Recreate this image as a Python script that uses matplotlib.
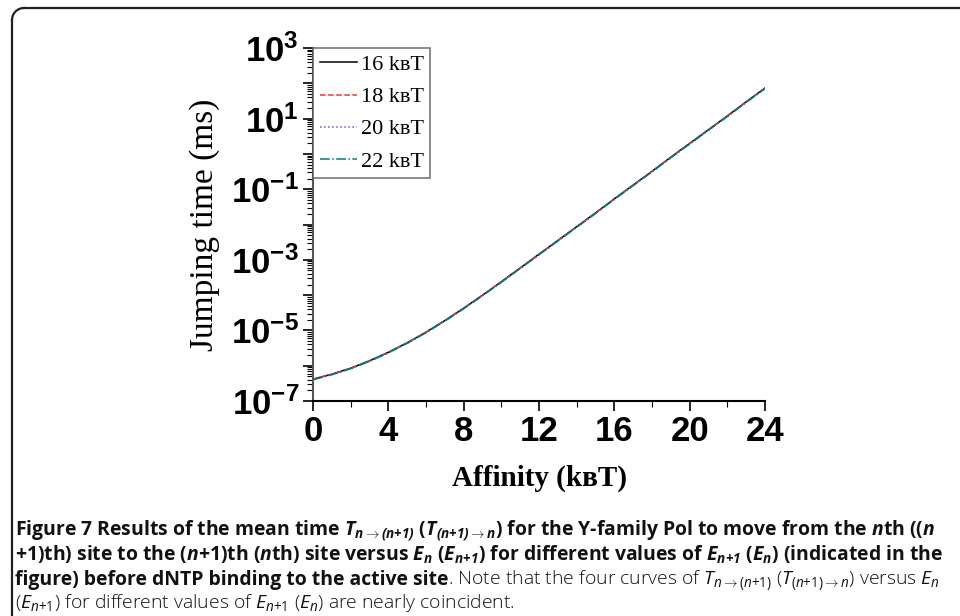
import numpy as np
import matplotlib
matplotlib.use("Agg")
import matplotlib.pyplot as plt
from matplotlib.ticker import LogLocator, FixedLocator, MultipleLocator, FuncFormatter
from matplotlib.lines import Line2D

# Data (affinity in kBT, jumping time in ms)
affinity = np.arange(0, 25)
t_16 = [4.17e-7, 5.75e-7, 8.51e-7, 1.38e-6, 2.40e-6, 4.47e-6, 8.91e-6, 1.91e-5, 4.27e-5,
        1.00e-4, 2.40e-4, 5.89e-4, 1.45e-3, 3.55e-3, 8.71e-3, 2.14e-2, 5.37e-2, 0.132,
        0.324, 0.813, 2.00, 4.90, 12.0, 30.2, 74.1]
t_18 = [4.12e-7, 5.69e-7, 8.42e-7, 1.36e-6, 2.37e-6, 4.42e-6, 8.81e-6, 1.89e-5, 4.22e-5,
        0.99e-4, 2.37e-4, 5.82e-4, 1.43e-3, 3.51e-3, 8.60e-3, 2.11e-2, 5.30e-2, 0.130,
        0.320, 0.803, 1.97, 4.84, 11.8, 29.8, 73.0]
t_20 = [4.06e-7, 5.62e-7, 8.33e-7, 1.35e-6, 2.34e-6, 4.37e-6, 8.71e-6, 1.87e-5, 4.17e-5,
        0.98e-4, 2.34e-4, 5.75e-4, 1.41e-3, 3.47e-3, 8.50e-3, 2.09e-2, 5.24e-2, 0.129,
        0.316, 0.794, 1.95, 4.78, 11.7, 29.4, 72.0]
t_22 = [4.00e-7, 5.55e-7, 8.22e-7, 1.33e-6, 2.31e-6, 4.31e-6, 8.60e-6, 1.84e-5, 4.12e-5,
        0.96e-4, 2.31e-4, 5.68e-4, 1.39e-3, 3.42e-3, 8.40e-3, 2.06e-2, 5.17e-2, 0.127,
        0.312, 0.785, 1.92, 4.72, 11.5, 29.0, 71.0]
labels = ["16 k\u0299T", "18 k\u0299T", "20 k\u0299T", "22 k\u0299T"]

colors = ["black", "#e8383c", "#5a5ad8", "#0a7878"]
styles = ["-", "--", ":", "-."]

plt.rcParams["mathtext.fontset"] = "custom"
plt.rcParams["mathtext.rm"] = "Open Sans"
plt.rcParams["mathtext.it"] = "Open Sans:italic"
plt.rcParams["mathtext.bf"] = "Open Sans:italic:bold"

serif = ["Liberation Serif", "DejaVu Serif"]
tickfont = "Liberation Sans"

fig = plt.figure(figsize=(9.6, 6.16), dpi=100)
ax = fig.add_axes([0.326, 0.349, 0.471, 0.573])

for ys, c, ls, lab in zip([t_16, t_18, t_20, t_22], colors, styles, labels):
    ax.plot(affinity, ys, color=c, linestyle=ls, linewidth=1.1, label=lab)

ax.set_yscale("log")
ax.set_ylim(1e-7, 1e3)
ax.set_xlim(0, 24)
ax.xaxis.set_major_locator(MultipleLocator(4))
ax.xaxis.set_minor_locator(MultipleLocator(2))
ax.yaxis.set_major_locator(FixedLocator([10.0 ** k for k in range(-7, 4)]))
ax.yaxis.set_minor_locator(LogLocator(base=10, subs=np.arange(2, 10), numticks=20))


def ylab(v, pos):
    k = int(round(np.log10(v)))
    if k % 2 == 0:
        return ""
    return r"$\mathdefault{10^{%d}}$" % k


ax.yaxis.set_major_formatter(FuncFormatter(ylab))

for s in ["top", "right"]:
    ax.spines[s].set_visible(False)
ax.spines["left"].set_color("#555555")
ax.spines["left"].set_linewidth(1.5)
ax.spines["bottom"].set_linewidth(1.5)
ax.tick_params(which="major", direction="out", length=7, width=1.2, labelsize=25, pad=3)
ax.tick_params(which="minor", direction="out", length=4, width=0.8)
for t in ax.get_xticklabels() + ax.get_yticklabels():
    t.set_family(tickfont)
    t.set_fontweight("bold")

ax.set_xlabel("Affinity (k\u0299T)", family=serif, fontsize=21, fontweight="bold", labelpad=12)
ax.set_ylabel("Jumping time (ms)", family=serif, fontsize=24, labelpad=8)

leg = ax.legend(loc="upper left", bbox_to_anchor=(0.0, 1.0), frameon=True, fancybox=False,
                prop={"family": serif, "size": 16}, handlelength=1.7, handletextpad=0.15,
                labelspacing=0.52, borderpad=0.3, borderaxespad=0.0)
leg.get_frame().set_edgecolor("#555555")
leg.get_frame().set_linewidth(1.2)

# panel border (top-left corner only)
fig.add_artist(Line2D([12 / 960, 12 / 960], [0, 1 - 20 / 616], color="#222222", lw=1.6))
fig.add_artist(Line2D([24 / 960, 1], [1 - 8 / 616, 1 - 8 / 616], color="#222222", lw=1.6))
th = np.linspace(np.pi / 2, np.pi, 20)
fig.add_artist(Line2D((24 + 12 * np.cos(th)) / 960, 1 - (20 - 12 * np.sin(th)) / 616,
                      color="#222222", lw=1.6))

# caption
arr = r"{\rightarrow}"
cap_kw = dict(family="Open Sans", fontsize=13.95, color="#111111", va="baseline")
fig.text(15 / 960, 1 - 536 / 616,
         r"Figure 7 Results of the mean time $\mathbf{T_{n" + arr + r"(n{+}1)}}$ ($\mathbf{T_{(n{+}1)" + arr + r"n}}$) "
         r"for the Y-family Pol to move from the $\mathbf{n}$th (($\mathbf{n}$",
         fontweight="bold", **cap_kw)
fig.text(15 / 960, 1 - 561 / 616,
         r"+1)th) site to the ($\mathbf{n}$+1)th ($\mathbf{n}$th) site versus $\mathbf{E_n}$ ($\mathbf{E_{n{+}1}}$) "
         r"for different values of $\mathbf{E_{n{+}1}}$ ($\mathbf{E_n}$) (indicated in the",
         fontweight="bold", **cap_kw)
t3 = fig.text(15 / 960, 1 - 585 / 616, "figure) before dNTP binding to the active site",
              fontweight="bold", **cap_kw)
fig.canvas.draw()
r = fig.canvas.get_renderer()
x3 = t3.get_window_extent(r).x1 / fig.bbox.width
fig.text(x3, 1 - 585 / 616,
         r". Note that the four curves of $\mathit{T_{n" + arr + r"(n{+}1)}}$ ($\mathit{T_{(n{+}1)" + arr + r"n}}$) versus $\mathit{E_n}$",
         fontweight="light", **cap_kw)
fig.text(15 / 960, 1 - 608 / 616,
         r"($\mathit{E_{n{+}1}}$) for different values of $\mathit{E_{n{+}1}}$ ($\mathit{E_n}$) are nearly coincident.",
         fontweight="light", **cap_kw)

fig.savefig("out.png", dpi=100)
